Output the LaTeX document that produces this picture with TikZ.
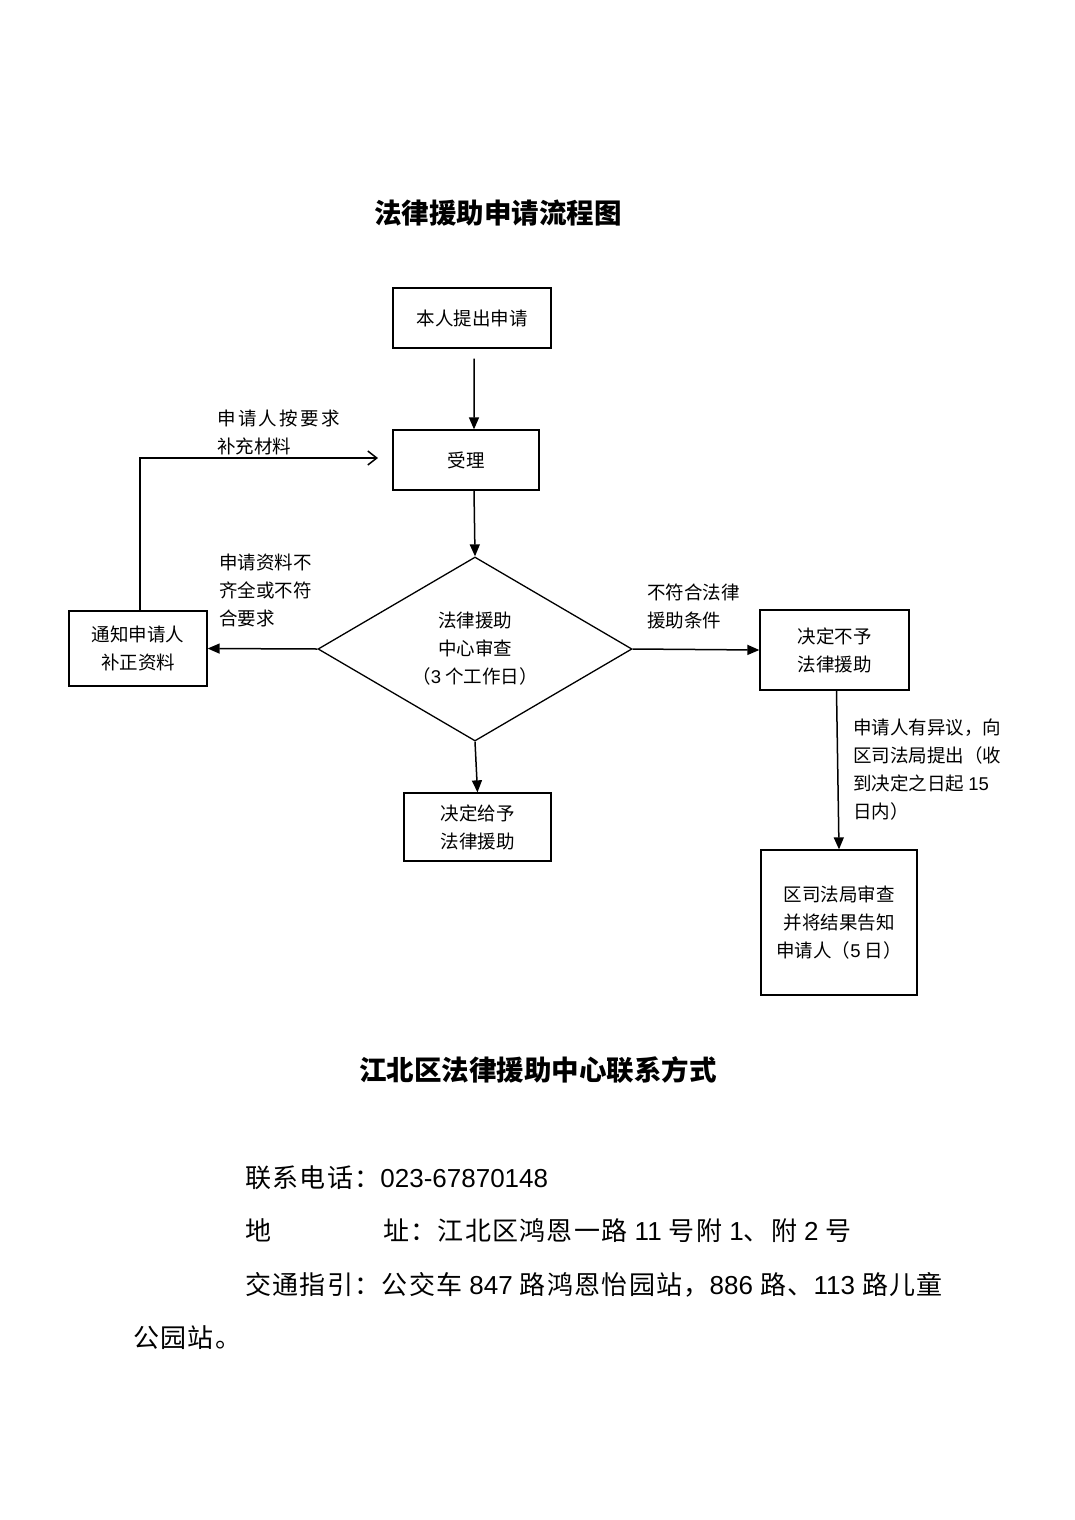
\documentclass[tikz,border=0pt]{standalone}
\usepackage{fontspec}
\setmainfont{Noto Sans CJK SC}
\newfontfamily\lat{Liberation Sans}
\newfontfamily\cjkwide[LetterSpace=13]{Noto Sans CJK SC}
\newfontfamily\cjkinfo[LetterSpace=5]{Noto Sans CJK SC}
\usetikzlibrary{arrows.meta,shapes.geometric}
\newcommand\boxfont{\fontsize{18.5bp}{28bp}\selectfont}
\newcommand\infofont{\cjkinfo\fontsize{26bp}{30bp}\selectfont}
\newcommand\headfont{\bfseries\fontsize{27.5bp}{30bp}\selectfont}
\tikzset{
  box/.style={draw, line width=1.3bp, inner sep=0pt, align=center, font=\boxfont},
  decision/.style={draw, diamond, line width=1.3bp, inner sep=0pt, aspect=1.7, align=center, font=\boxfont},
  note/.style={anchor=north west, inner sep=0pt, align=left, font=\boxfont},
  line/.style={anchor=west, inner sep=0pt, font=\infofont},
  arr/.style={line width=1.5bp, -{Triangle[length=12bp,width=10bp]}},
  backarr/.style={line width=1.5bp, -{Straight Barb[length=9bp,width=14bp,line width=1.5bp]}}
}
\begin{document}
\begin{tikzpicture}[x=1bp,y=-1bp]
\useasboundingbox (0,0) rectangle (1074,1520);
% titles
\node[font=\headfont] (title) at (498,213) {法律援助申请流程图};
\node[font=\headfont] (contact) at (538,1070) {江北区法律援助中心联系方式};
% flow chart
\node[box, minimum width=158bp, minimum height=60bp] (apply) at (472,318) {本人提出申请};
\node[box, minimum width=146bp, minimum height=60bp] (accept) at (466,460) {受理};
\node[decision, minimum width=314bp, minimum height=184bp] (review) at (475,649) {法律援助\\中心审查\\（{\lat 3} 个工作日）};
\node[box, minimum width=138bp, minimum height=75bp] (notify) at (138,648.5) {通知申请人\\补正资料};
\node[box, minimum width=149bp, minimum height=80bp] (refuse) at (834.5,650) {决定不予\\法律援助};
\node[box, minimum width=147bp, minimum height=68bp] (grant) at (477.5,827) {决定给予\\法律援助};
\node[box, minimum width=156bp, minimum height=145bp] (bureau) at (839,922.5) {区司法局审查\\并将结果告知\\申请人（{\lat 5} 日）};
\coordinate (back) at (378,458);
% connectors
\draw[arr] ([xshift=2bp,yshift=-10bp]apply.south) -- ([xshift=8bp]accept.north);
\draw[arr] ([xshift=8bp]accept.south) -- (review.north);
\draw[arr] (review.west) -- (notify.east);
\draw[arr] (review.east) -- (refuse.west);
\draw[arr] (review.south) -- (grant.north);
\draw[arr] ([xshift=2bp]refuse.south) -- (bureau.north);
\draw[backarr] ([xshift=2bp]notify.north) |- (back);
% labels
\node[note] (resubmit) at (217,410) {{\cjkwide 申请人按要求}\\补充材料};
\node[note] (lacking) at (219,554) {申请资料不\\齐全或不符\\合要求};
\node[note] (unfit) at (647,584) {不符合法律\\援助条件};
\node[note] (appeal) at (853,719) {申请人有异议，向\\区司法局提出（收\\到决定之日起 {\lat 15}\\日内）};
% contact lines
\node[line] (phone) at (245,1178) {联系电话：{\lat 023-67870148}};
\node[line] (addr) at (245,1231) {地\hspace*{112bp}址：江北区鸿恩一路\ {\lat 11}\ 号附\ {\lat 1}、附\ {\lat 2}\ 号};
\node[line] (bus) at (245,1285) {交通指引：公交车\ {\lat 847}\ 路鸿恩怡园站，{\lat 886}\ 路、{\lat 113}\ 路儿童};
\node[line] (bus2) at (133,1338) {公园站。};
\end{tikzpicture}
\end{document}
